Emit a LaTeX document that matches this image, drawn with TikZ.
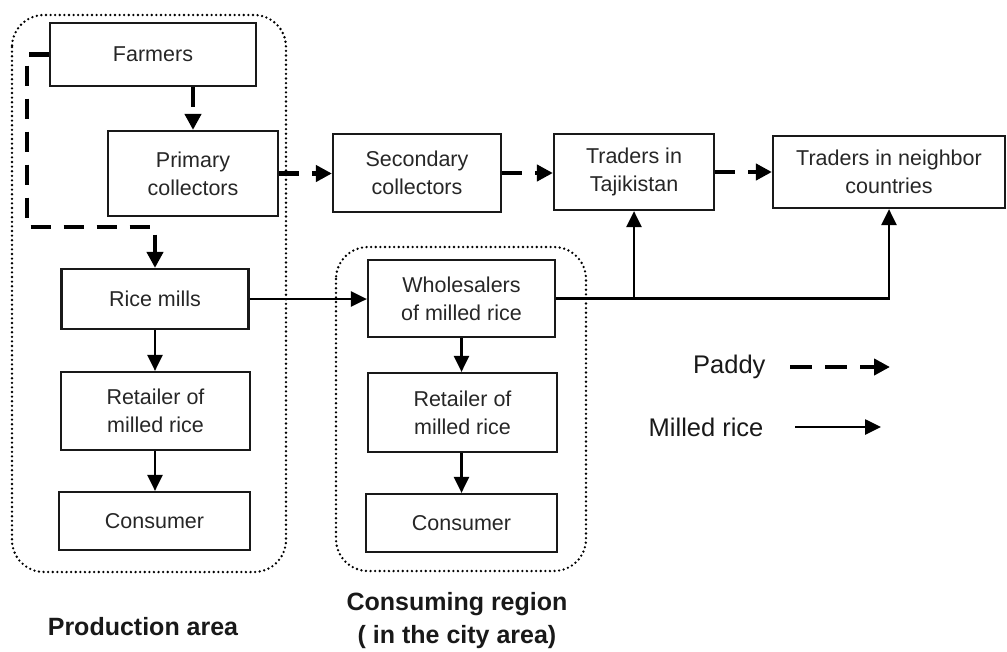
\documentclass[tikz,border=0pt]{standalone}
\usepackage{fontspec}
\setmainfont{Liberation Sans}
\usetikzlibrary{arrows.meta}
\begin{document}
\begin{tikzpicture}[x=1pt,y=-1pt,
  box/.style={draw=black!90, line width=2.2pt, minimum width=#1, inner sep=0pt, align=center, text=black!85, font=\fontsize{21.5}{28}\selectfont},
  paddy/.style={line width=4.5pt, dash pattern=on 20pt off 13pt, -{Triangle[length=16pt,width=16pt]}},
  milled/.style={line width=2.6pt, -{Triangle[length=16pt,width=15pt]}},
  region/.style={line width=2.6pt, dash pattern=on 0pt off 4.6pt, line cap=round, rounded corners=32pt},
  regioncaption/.style={font=\bfseries\fontsize{25}{33}\selectfont, align=center, text=black!90},
  legendtext/.style={font=\fontsize{25.5}{30}\selectfont, anchor=east, text=black!90}]
\useasboundingbox (0,0) rectangle (1007,651);

% regions
\draw[region] (12,15) rectangle (286,572);
\draw[region] (336,247) rectangle (586,571);

% nodes
\node[box=206pt, minimum height=63pt] (farm) at (153,54.5) {Farmers};
\node[box=170pt, minimum height=85pt] (prim) at (193,173.5) {Primary\\collectors};
\node[box=168pt, minimum height=78pt] (sec) at (417,173) {Secondary\\collectors};
\node[box=160pt, minimum height=76pt] (taj) at (634,172) {Traders in\\Tajikistan};
\node[box=232pt, minimum height=72pt] (neigh) at (889,172) {Traders in neighbor\\countries};
\node[box=187pt, minimum height=60pt] (mills) at (155,299) {Rice mills};
\node[box=189pt, minimum height=78pt] (retL) at (155.5,411) {Retailer of\\milled rice};
\node[box=191pt, minimum height=58pt] (conL) at (154.5,521) {Consumer};
\node[box=187pt, minimum height=77pt] (whole) at (461.5,298.5) {Wholesalers\\of milled rice};
\node[box=189pt, minimum height=79pt] (retM) at (462.5,412.5) {Retailer of\\milled rice};
\node[box=191pt, minimum height=58pt] (conM) at (461.5,523) {Consumer};

% region captions
\node[regioncaption] (capP) at (143,627) {Production area};
\node[regioncaption] (capC) at (457,621) {Consuming region\\( in the city area)};

% paddy flows
\coordinate (pturn) at (27,227);
\draw[paddy] (farm.west) -| (pturn) -- (pturn -| mills.north) -- (mills.north);
\draw[paddy] (farm.south -| prim.north) -- (prim.north);
\draw[paddy] (prim.east) -- (prim.east -| sec.west);
\draw[paddy] (sec.east) -- (sec.east -| taj.west);
\draw[paddy] (taj.east) -- (taj.east -| neigh.west);

% milled rice flows
\draw[milled] (mills.east) -- (mills.east -| whole.west);
\draw[milled] (mills.south) -- (mills.south |- retL.north);
\draw[milled] (mills.south |- retL.south) -- (mills.south |- conL.north);
\draw[milled] (whole.south) -- (whole.south |- retM.north);
\draw[milled] (whole.south |- retM.south) -- (whole.south |- conM.north);
\draw[milled] (whole.east) -| (neigh.south);
\draw[milled] (whole.east -| taj.south) -- (taj.south);

% legend
\node[legendtext] (lp) at (769,367) {Paddy};
\node[legendtext] (lm) at (767,427) {Milled rice};
\coordinate (lpa) at (790,367);
\coordinate (lpb) at (890,367);
\coordinate (lma) at (795,427);
\coordinate (lmb) at (881,427);
\draw[paddy, dash pattern=on 22pt off 13pt] (lpa) -- (lpb);
\draw[milled] (lma) -- (lmb);
\end{tikzpicture}
\end{document}
